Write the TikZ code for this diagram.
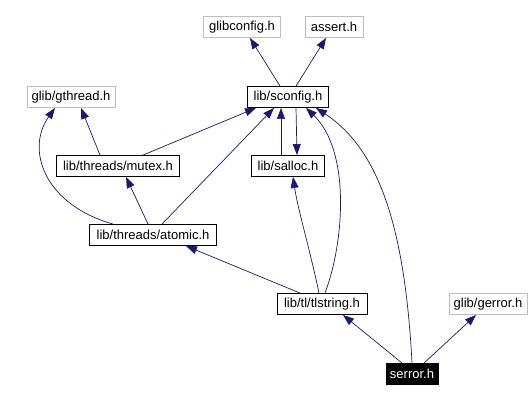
\documentclass[tikz,border=0pt]{standalone}
\usepackage{fontspec}
\setmainfont{Liberation Sans}
\usepackage{xcolor}
\usepackage{tikz}
\usetikzlibrary{arrows.meta, positioning}

\definecolor{edgeblue}{HTML}{191970}
\definecolor{extgray}{HTML}{BFBFBF}

\begin{document}
\begin{tikzpicture}[x=1pt, y=-1pt,
  doc/.style={draw=black, line width=0.9pt, minimum height=21pt, inner sep=0pt, font=\fontsize{13}{15}\selectfont},
  ext/.style={doc, draw=extgray},
  self/.style={doc, fill=black, text=white},
  dep/.style={draw=edgeblue, line width=0.7pt, -{Triangle[length=11pt,width=8pt]}}]
\useasboundingbox (0,0) rectangle (532,401);

% Headers
\node[ext, minimum width=77] (glibconfig) at (242,27) {glibconfig.h};
\node[ext, minimum width=58] (assert) at (334,27) {assert.h};
\node[doc, minimum width=81] (sconfig) at (288,97) {lib/sconfig.h};
\node[ext, minimum width=88] (gthread) at (71,97) {glib/gthread.h};
\node[doc, minimum width=123] (mutex) at (118,166) {lib/threads/mutex.h};
\node[doc, minimum width=73] (salloc) at (288,166) {lib/salloc.h};
\node[doc, minimum width=127] (atomic) at (153,235) {lib/threads/atomic.h};
\node[doc, minimum width=90] (tlstring) at (322,304) {lib/tl/tlstring.h};
\node[ext, minimum width=78] (gerror) at (488,304) {glib/gerror.h};
\node[self, minimum width=52] (serror) at (412,374) {serror.h};

% Includes of lib/sconfig.h
\draw[dep] ([xshift=-8pt]sconfig.north) -- ([xshift=8pt]glibconfig.south);
\draw[dep] ([xshift=8pt]sconfig.north) -- ([xshift=-8pt]assert.south);
\draw[dep] ([xshift=8pt]sconfig.south) -- ([xshift=9pt]salloc.north);

% Includes of mutex and salloc
\draw[dep] ([xshift=-18pt]mutex.north) -- ([xshift=10pt]gthread.south);
\draw[dep] ([xshift=25pt]mutex.north) -- ([xshift=-32pt]sconfig.south);
\draw[dep] ([xshift=-7pt]salloc.north) -- ([xshift=-7pt]sconfig.south);

% Includes of atomic
\draw[dep] ([xshift=-40pt]atomic.north) .. controls (45,205) and (25,150) .. ([xshift=-16pt]gthread.south);
\draw[dep] ([xshift=-5pt]atomic.north) -- ([xshift=8pt]mutex.south);
\draw[dep] ([xshift=9pt]atomic.north) -- ([xshift=-14pt]sconfig.south);

% Includes of tlstring
\draw[dep] ([xshift=-22pt]tlstring.north) -- ([xshift=33pt]atomic.south);
\draw[dep] ([xshift=-3pt]tlstring.north) .. controls (310,250) and (298,210) .. ([xshift=5pt]salloc.south);
\draw[dep] ([xshift=3pt]tlstring.north) .. controls (345,240) and (350,150) .. ([xshift=18pt]sconfig.south);

% Includes of serror
\draw[dep] ([xshift=-10pt]serror.north) -- ([xshift=21pt]tlstring.south);
\draw[dep] (serror.north) .. controls (405,230) and (380,150) .. ([xshift=28pt]sconfig.south);
\draw[dep] ([xshift=12pt]serror.north) -- ([xshift=-12pt]gerror.south);
\end{tikzpicture}
\end{document}
